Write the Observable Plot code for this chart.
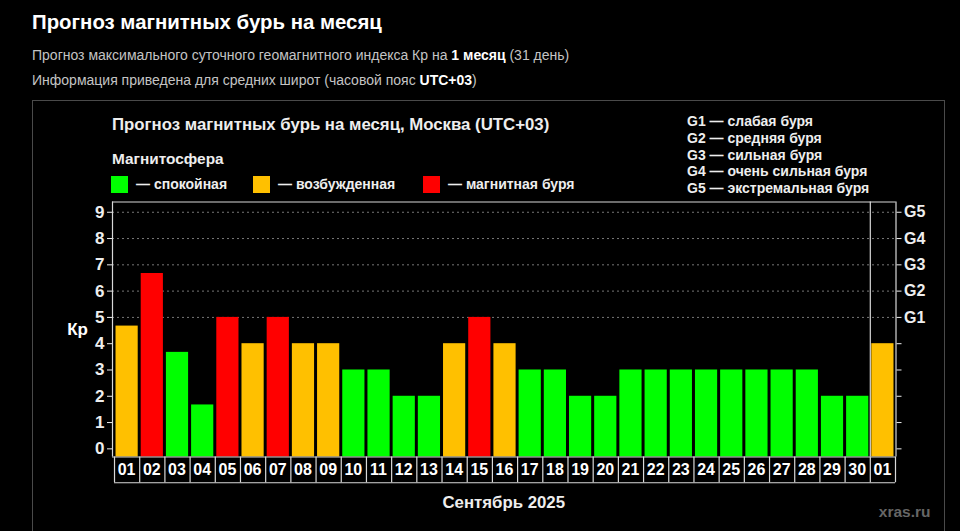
<!DOCTYPE html>
<html lang="ru">
<head>
<meta charset="utf-8">
<script src="https://cdn.jsdelivr.net/npm/d3@7"></script>
<script src="https://cdn.jsdelivr.net/npm/@observablehq/plot@0.6"></script>
<style>
html,body{margin:0;padding:0;background:#000;width:960px;height:531px;overflow:hidden;font-family:"Liberation Sans",Arial,sans-serif;color:#fff}
.t{position:absolute;white-space:nowrap;line-height:1}
.panel{position:absolute;left:32px;top:100px;width:913px;height:440px;border:1px solid #4a4a4a;box-sizing:border-box}
.sw{position:absolute;width:17px;height:17px}
b{font-weight:bold;color:#fff}
#chart{position:absolute;left:0;top:195px}
#chart svg{display:block;background:transparent}
</style>
</head>
<body>
<div class="t" id="h1" style="left:32px;top:12px;font-size:20.4px;font-weight:bold"></div>
<div class="t" id="s1" style="left:32px;top:48px;font-size:14px;color:#c4c4c4"></div>
<div class="t" id="s2" style="left:32px;top:73px;font-size:14px;color:#c4c4c4"></div>
<div class="panel"></div>
<div class="t" id="ct" style="left:112px;top:117px;font-size:16.8px;font-weight:bold;color:#eee"></div>
<div class="t" id="mag" style="left:112px;top:151px;font-size:15.4px;font-weight:bold;color:#eee"></div>
<div id="legend"></div>
<div id="glist"></div>
<div id="chart"></div>
<script>
const pageTitle = "Прогноз магнитных бурь на месяц";
const sub1 = 'Прогноз максимального суточного геомагнитного индекса Кр на <b>1 месяц</b> (31 день)';
const sub2 = 'Информация приведена для средних широт (часовой пояс <b>UTC+03</b>)';
const chartTitle = "Прогноз магнитных бурь на месяц, Москва (UTC+03)";
const legendTitle = "Магнитосфера";
const monthLabel = "Сентябрь 2025";
const watermark = "xras.ru";

const days = ["01","02","03","04","05","06","07","08","09","10","11","12","13","14","15","16","17","18","19","20","21","22","23","24","25","26","27","28","29","30","01"];
const kp = [4.67,6.67,3.67,1.67,5,4,5,4,4,3,3,2,2,4,5,4,3,3,2,2,3,3,3,3,3,3,3,3,2,2,4];
const stateKeys = ["calm","active","storm"];
const stateNames = ["— спокойная","— возбужденная","— магнитная буря"];
const stateColors = ["#00ff00","#ffc000","#ff0000"];
const kpTicks = [0,1,2,3,4,5,6,7,8,9];
const gridKp = [5,6,7,8,9];
const gLabels = ["G1","G2","G3","G4","G5"];
const gDescriptions = ["G1 — слабая буря","G2 — средняя буря","G3 — сильная буря","G4 — очень сильная буря","G5 — экстремальная буря"];

document.getElementById("h1").textContent = pageTitle;
document.getElementById("s1").innerHTML = sub1;
document.getElementById("s2").innerHTML = sub2;
document.getElementById("ct").textContent = chartTitle;
document.getElementById("mag").textContent = legendTitle;

const legendX = [111, 253, 423];
const legend = document.getElementById("legend");
stateNames.forEach((n,i)=>{
  const s=document.createElement("div");s.className="sw";s.style.cssText=`left:${legendX[i]}px;top:176px;background:${stateColors[i]}`;legend.append(s);
  const t=document.createElement("div");t.className="t";t.textContent=n;t.style.cssText=`left:${legendX[i]+25}px;top:177px;font-size:14px;font-weight:bold;color:#eee`;legend.append(t);
});
const glist = document.getElementById("glist");
gDescriptions.forEach((n,i)=>{
  const t=document.createElement("div");t.className="t";t.textContent=n;t.style.cssText=`left:687px;top:${114+i*16.8}px;font-size:14px;font-weight:bold;color:#eee`;glist.append(t);
});

const state = v => v >= 5 ? "storm" : v >= 4 ? "active" : "calm";
const bandOf = [ "active","storm","calm","calm","storm","active","storm","active","active","calm","calm","calm","calm","active","storm","active","calm","calm","calm","calm","calm","calm","calm","calm","calm","calm","calm","calm","calm","calm","active" ];
const rows = kp.map((v,i)=>({i, day:days[i], kp:v, state: bandOf[i]}));
const gRows = gLabels.map((g,i)=>({g, y:gridKp[i]}));
const edges = d3.range(0,32);

const yMin=-0.31, yMax=9.39, yLow=-1.29, xLeft=-0.08, xRight=31.02;
const frameColor="#d8d8d8";
const fig = Plot.plot({
  width:960, height:336,
  marginLeft:112, marginRight:64.5, marginTop:6.5, marginBottom:74.5,
  style:{background:"transparent",fontFamily:'"Liberation Sans",Arial,sans-serif'},
  x:{type:"linear",domain:[xLeft,xRight],axis:null},
  y:{type:"linear",domain:[yMin,yMax],axis:null},
  color:{domain:stateKeys,range:stateColors},
  marks:[
    Plot.ruleY(gridKp,{x1:xLeft,x2:xRight,stroke:"#777",strokeWidth:1,strokeDasharray:"2,3"}),
    Plot.rectY(rows,{x1:"i",x2:d=>d.i+1,y1:yMin,y2:"kp",fill:"state",insetLeft:1.5,insetRight:1.5}),
    Plot.ruleX([xLeft,xRight],{y1:yMin,y2:yMax,stroke:frameColor,strokeWidth:1.2}),
    Plot.ruleX([30],{y1:yMin,y2:yMax,stroke:frameColor,strokeWidth:1.2}),
    Plot.ruleY([yMax,yMin],{x1:xLeft,x2:xRight,stroke:frameColor,strokeWidth:1.2}),
    Plot.ruleX(edges,{y1:yMin,y2:yLow,stroke:frameColor,strokeWidth:1.2}),
    Plot.ruleY([yLow],{x1:0,x2:31,stroke:frameColor,strokeWidth:1.2}),
    Plot.text(rows,{x:d=>d.i+0.5,y:-0.81,dx:-0.5,text:"day",fill:"#fff",fontSize:16,fontWeight:"bold"}),
    Plot.axisY(kpTicks,{anchor:"left",tickSize:5,tickPadding:3,color:"#eee",fontSize:17,fontWeight:"bold",label:null,tickFormat:d=>d}),
    Plot.axisY(kpTicks,{anchor:"right",tickSize:5,tickFormat:()=>"",color:"#eee",label:null}),
    Plot.text(gRows,{x:xRight,y:"y",text:"g",dx:8,textAnchor:"start",fill:"#eee",fontSize:16,fontWeight:"bold"}),
    Plot.text(["Кр"],{x:xLeft,y:4.55,dx:-35,text:d=>d,fill:"#fff",fontSize:17,fontWeight:"bold"}),
    Plot.text([monthLabel],{x:15.45,y:-2.04,text:d=>d,fill:"#eee",fontSize:16.8,fontWeight:"bold"}),
    Plot.text([watermark],{x:31,y:-2.39,dx:35,text:d=>d,textAnchor:"end",fill:"#666",fontSize:15.5,fontWeight:"bold"})
  ]
});
document.getElementById("chart").append(fig);
</script>
</body>
</html>
